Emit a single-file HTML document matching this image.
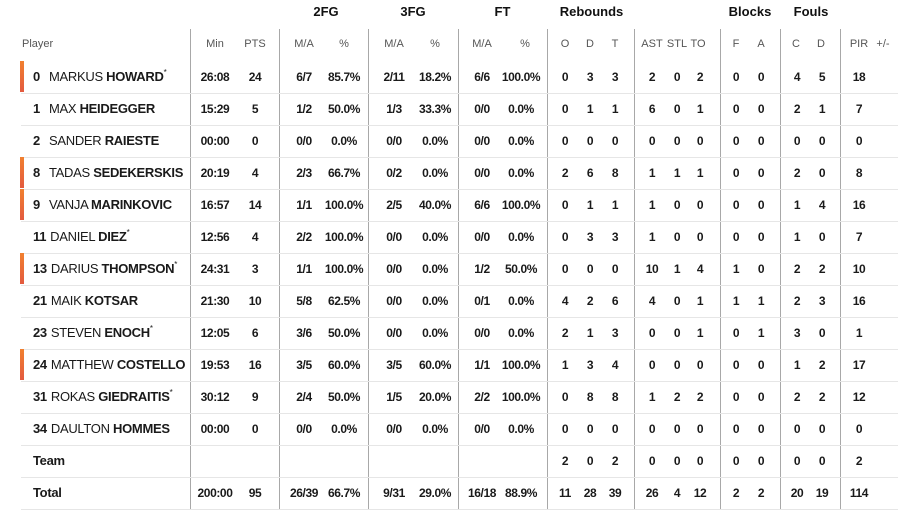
<!DOCTYPE html>
<html>
<head>
<meta charset="utf-8">
<style>
html,body{margin:0;padding:0;background:#fff;}
body{width:898px;height:521px;position:relative;overflow:hidden;font-family:"Liberation Sans",Arial,sans-serif;color:#1a1a1a;}
.vl{position:absolute;top:29px;height:480px;width:1px;background:#a8a8a8;}
.hl{position:absolute;left:21px;width:877px;height:1px;background:#e6e6e6;}
.bar{position:absolute;left:20px;width:4px;height:31px;background:linear-gradient(#f1802f,#e35a3f);}
.gh{position:absolute;top:4px;height:16px;line-height:16px;font-weight:bold;font-size:13px;text-align:center;color:#111;}
.hd{position:absolute;top:36px;height:16px;line-height:16px;font-size:11px;color:#555;}
.hd span,.row span.v{position:absolute;width:60px;text-align:center;}
.row{position:absolute;left:0;width:898px;height:32px;line-height:32px;}
.row span.v{font-weight:bold;font-size:12px;letter-spacing:-0.4px;}
.nm{position:absolute;left:33px;font-size:13px;letter-spacing:-0.3px;white-space:nowrap;}
.nm b.n{display:inline-block;min-width:12px;margin-right:4px;}
.nm sup{font-size:8px;vertical-align:6px;line-height:0;}
.c1{left:185px}.c2{left:225px}.c3{left:274px}.c4{left:314px}.c5{left:364px}.c6{left:405px}
.c7{left:452px}.c8{left:491px}.c9{left:535px}.c10{left:560px}.c11{left:585px}
.c12{left:622px}.c13{left:647px}.c14{left:670px}.c15{left:706px}.c16{left:731px}
.c17{left:767px}.c18{left:792px}.c19{left:829px}.c20{left:853px}
</style>
</head>
<body>
<!-- group headers -->
<div class="gh" style="left:279px;width:94px;">2FG</div>
<div class="gh" style="left:368px;width:90px;">3FG</div>
<div class="gh" style="left:458px;width:89px;">FT</div>
<div class="gh" style="left:547px;width:89px;">Rebounds</div>
<div class="gh" style="left:720px;width:60px;">Blocks</div>
<div class="gh" style="left:780px;width:62px;">Fouls</div>

<!-- header row -->
<div class="hd" style="left:0;width:898px;">
<span style="left:22px;width:auto;text-align:left;">Player</span>
<span class="c1">Min</span><span class="c2">PTS</span>
<span class="c3">M/A</span><span class="c4">%</span>
<span class="c5">M/A</span><span class="c6">%</span>
<span class="c7">M/A</span><span style="left:495px">%</span>
<span class="c9">O</span><span class="c10">D</span><span class="c11">T</span>
<span class="c12">AST</span><span class="c13">STL</span><span style="left:668px">TO</span>
<span class="c15">F</span><span class="c16">A</span>
<span style="left:766px">C</span><span style="left:791px">D</span>
<span class="c19">PIR</span><span class="c20">+/-</span>
</div>

<!-- lines -->
<div class="vl" style="left:190px"></div>
<div class="vl" style="left:279px"></div>
<div class="vl" style="left:368px"></div>
<div class="vl" style="left:458px"></div>
<div class="vl" style="left:547px"></div>
<div class="vl" style="left:634px"></div>
<div class="vl" style="left:720px"></div>
<div class="vl" style="left:780px"></div>
<div class="vl" style="left:840px"></div>

<div class="hl" style="top:93px"></div>
<div class="hl" style="top:125px"></div>
<div class="hl" style="top:157px"></div>
<div class="hl" style="top:189px"></div>
<div class="hl" style="top:221px"></div>
<div class="hl" style="top:253px"></div>
<div class="hl" style="top:285px"></div>
<div class="hl" style="top:317px"></div>
<div class="hl" style="top:349px"></div>
<div class="hl" style="top:381px"></div>
<div class="hl" style="top:413px"></div>
<div class="hl" style="top:445px"></div>
<div class="hl" style="top:477px"></div>
<div class="hl" style="top:509px"></div>

<!-- bars -->
<div class="bar" style="top:61px"></div>
<div class="bar" style="top:157px"></div>
<div class="bar" style="top:189px"></div>
<div class="bar" style="top:253px"></div>
<div class="bar" style="top:349px"></div>

<!-- rows -->
<div class="row" style="top:61px">
<div class="nm"><b class="n">0</b>MARKUS <b>HOWARD</b><sup>*</sup></div>
<span class="v c1">26:08</span><span class="v c2">24</span><span class="v c3">6/7</span><span class="v c4">85.7%</span><span class="v c5">2/11</span><span class="v c6">18.2%</span><span class="v c7">6/6</span><span class="v c8">100.0%</span><span class="v c9">0</span><span class="v c10">3</span><span class="v c11">3</span><span class="v c12">2</span><span class="v c13">0</span><span class="v c14">2</span><span class="v c15">0</span><span class="v c16">0</span><span class="v c17">4</span><span class="v c18">5</span><span class="v c19">18</span>
</div>
<div class="row" style="top:93px">
<div class="nm"><b class="n">1</b>MAX <b>HEIDEGGER</b></div>
<span class="v c1">15:29</span><span class="v c2">5</span><span class="v c3">1/2</span><span class="v c4">50.0%</span><span class="v c5">1/3</span><span class="v c6">33.3%</span><span class="v c7">0/0</span><span class="v c8">0.0%</span><span class="v c9">0</span><span class="v c10">1</span><span class="v c11">1</span><span class="v c12">6</span><span class="v c13">0</span><span class="v c14">1</span><span class="v c15">0</span><span class="v c16">0</span><span class="v c17">2</span><span class="v c18">1</span><span class="v c19">7</span>
</div>
<div class="row" style="top:125px">
<div class="nm"><b class="n">2</b>SANDER <b>RAIESTE</b></div>
<span class="v c1">00:00</span><span class="v c2">0</span><span class="v c3">0/0</span><span class="v c4">0.0%</span><span class="v c5">0/0</span><span class="v c6">0.0%</span><span class="v c7">0/0</span><span class="v c8">0.0%</span><span class="v c9">0</span><span class="v c10">0</span><span class="v c11">0</span><span class="v c12">0</span><span class="v c13">0</span><span class="v c14">0</span><span class="v c15">0</span><span class="v c16">0</span><span class="v c17">0</span><span class="v c18">0</span><span class="v c19">0</span>
</div>
<div class="row" style="top:157px">
<div class="nm"><b class="n">8</b>TADAS <b>SEDEKERSKIS</b></div>
<span class="v c1">20:19</span><span class="v c2">4</span><span class="v c3">2/3</span><span class="v c4">66.7%</span><span class="v c5">0/2</span><span class="v c6">0.0%</span><span class="v c7">0/0</span><span class="v c8">0.0%</span><span class="v c9">2</span><span class="v c10">6</span><span class="v c11">8</span><span class="v c12">1</span><span class="v c13">1</span><span class="v c14">1</span><span class="v c15">0</span><span class="v c16">0</span><span class="v c17">2</span><span class="v c18">0</span><span class="v c19">8</span>
</div>
<div class="row" style="top:189px">
<div class="nm"><b class="n">9</b>VANJA <b>MARINKOVIC</b></div>
<span class="v c1">16:57</span><span class="v c2">14</span><span class="v c3">1/1</span><span class="v c4">100.0%</span><span class="v c5">2/5</span><span class="v c6">40.0%</span><span class="v c7">6/6</span><span class="v c8">100.0%</span><span class="v c9">0</span><span class="v c10">1</span><span class="v c11">1</span><span class="v c12">1</span><span class="v c13">0</span><span class="v c14">0</span><span class="v c15">0</span><span class="v c16">0</span><span class="v c17">1</span><span class="v c18">4</span><span class="v c19">16</span>
</div>
<div class="row" style="top:221px">
<div class="nm"><b class="n">11</b>DANIEL <b>DIEZ</b><sup>*</sup></div>
<span class="v c1">12:56</span><span class="v c2">4</span><span class="v c3">2/2</span><span class="v c4">100.0%</span><span class="v c5">0/0</span><span class="v c6">0.0%</span><span class="v c7">0/0</span><span class="v c8">0.0%</span><span class="v c9">0</span><span class="v c10">3</span><span class="v c11">3</span><span class="v c12">1</span><span class="v c13">0</span><span class="v c14">0</span><span class="v c15">0</span><span class="v c16">0</span><span class="v c17">1</span><span class="v c18">0</span><span class="v c19">7</span>
</div>
<div class="row" style="top:253px">
<div class="nm"><b class="n">13</b>DARIUS <b>THOMPSON</b><sup>*</sup></div>
<span class="v c1">24:31</span><span class="v c2">3</span><span class="v c3">1/1</span><span class="v c4">100.0%</span><span class="v c5">0/0</span><span class="v c6">0.0%</span><span class="v c7">1/2</span><span class="v c8">50.0%</span><span class="v c9">0</span><span class="v c10">0</span><span class="v c11">0</span><span class="v c12">10</span><span class="v c13">1</span><span class="v c14">4</span><span class="v c15">1</span><span class="v c16">0</span><span class="v c17">2</span><span class="v c18">2</span><span class="v c19">10</span>
</div>
<div class="row" style="top:285px">
<div class="nm"><b class="n">21</b>MAIK <b>KOTSAR</b></div>
<span class="v c1">21:30</span><span class="v c2">10</span><span class="v c3">5/8</span><span class="v c4">62.5%</span><span class="v c5">0/0</span><span class="v c6">0.0%</span><span class="v c7">0/1</span><span class="v c8">0.0%</span><span class="v c9">4</span><span class="v c10">2</span><span class="v c11">6</span><span class="v c12">4</span><span class="v c13">0</span><span class="v c14">1</span><span class="v c15">1</span><span class="v c16">1</span><span class="v c17">2</span><span class="v c18">3</span><span class="v c19">16</span>
</div>
<div class="row" style="top:317px">
<div class="nm"><b class="n">23</b>STEVEN <b>ENOCH</b><sup>*</sup></div>
<span class="v c1">12:05</span><span class="v c2">6</span><span class="v c3">3/6</span><span class="v c4">50.0%</span><span class="v c5">0/0</span><span class="v c6">0.0%</span><span class="v c7">0/0</span><span class="v c8">0.0%</span><span class="v c9">2</span><span class="v c10">1</span><span class="v c11">3</span><span class="v c12">0</span><span class="v c13">0</span><span class="v c14">1</span><span class="v c15">0</span><span class="v c16">1</span><span class="v c17">3</span><span class="v c18">0</span><span class="v c19">1</span>
</div>
<div class="row" style="top:349px">
<div class="nm"><b class="n">24</b>MATTHEW <b>COSTELLO</b></div>
<span class="v c1">19:53</span><span class="v c2">16</span><span class="v c3">3/5</span><span class="v c4">60.0%</span><span class="v c5">3/5</span><span class="v c6">60.0%</span><span class="v c7">1/1</span><span class="v c8">100.0%</span><span class="v c9">1</span><span class="v c10">3</span><span class="v c11">4</span><span class="v c12">0</span><span class="v c13">0</span><span class="v c14">0</span><span class="v c15">0</span><span class="v c16">0</span><span class="v c17">1</span><span class="v c18">2</span><span class="v c19">17</span>
</div>
<div class="row" style="top:381px">
<div class="nm"><b class="n">31</b>ROKAS <b>GIEDRAITIS</b><sup>*</sup></div>
<span class="v c1">30:12</span><span class="v c2">9</span><span class="v c3">2/4</span><span class="v c4">50.0%</span><span class="v c5">1/5</span><span class="v c6">20.0%</span><span class="v c7">2/2</span><span class="v c8">100.0%</span><span class="v c9">0</span><span class="v c10">8</span><span class="v c11">8</span><span class="v c12">1</span><span class="v c13">2</span><span class="v c14">2</span><span class="v c15">0</span><span class="v c16">0</span><span class="v c17">2</span><span class="v c18">2</span><span class="v c19">12</span>
</div>
<div class="row" style="top:413px">
<div class="nm"><b class="n">34</b>DAULTON <b>HOMMES</b></div>
<span class="v c1">00:00</span><span class="v c2">0</span><span class="v c3">0/0</span><span class="v c4">0.0%</span><span class="v c5">0/0</span><span class="v c6">0.0%</span><span class="v c7">0/0</span><span class="v c8">0.0%</span><span class="v c9">0</span><span class="v c10">0</span><span class="v c11">0</span><span class="v c12">0</span><span class="v c13">0</span><span class="v c14">0</span><span class="v c15">0</span><span class="v c16">0</span><span class="v c17">0</span><span class="v c18">0</span><span class="v c19">0</span>
</div>
<div class="row" style="top:445px">
<div class="nm"><b>Team</b></div>
<span class="v c9">2</span><span class="v c10">0</span><span class="v c11">2</span><span class="v c12">0</span><span class="v c13">0</span><span class="v c14">0</span><span class="v c15">0</span><span class="v c16">0</span><span class="v c17">0</span><span class="v c18">0</span><span class="v c19">2</span>
</div>
<div class="row" style="top:477px">
<div class="nm"><b>Total</b></div>
<span class="v c1">200:00</span><span class="v c2">95</span><span class="v c3">26/39</span><span class="v c4">66.7%</span><span class="v c5">9/31</span><span class="v c6">29.0%</span><span class="v c7">16/18</span><span class="v c8">88.9%</span><span class="v c9">11</span><span class="v c10">28</span><span class="v c11">39</span><span class="v c12">26</span><span class="v c13">4</span><span class="v c14">12</span><span class="v c15">2</span><span class="v c16">2</span><span class="v c17">20</span><span class="v c18">19</span><span class="v c19">114</span>
</div>
</body>
</html>
